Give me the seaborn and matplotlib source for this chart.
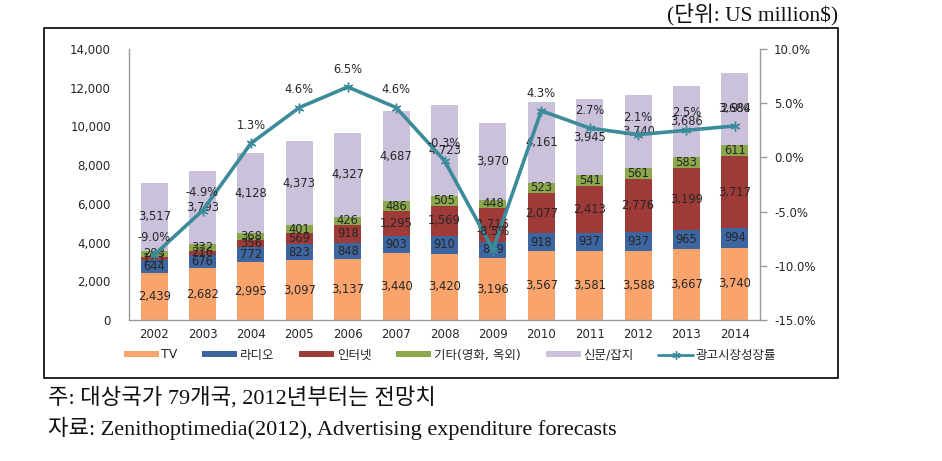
import numpy as np
import pandas as pd
import matplotlib
matplotlib.use("Agg")
import matplotlib.pyplot as plt
import seaborn as sns
from matplotlib.patches import Rectangle, Patch
from matplotlib.lines import Line2D
from matplotlib.ticker import FuncFormatter, FixedLocator

years = ["2002", "2003", "2004", "2005", "2006", "2007", "2008",
         "2009", "2010", "2011", "2012", "2013", "2014"]
tv = [2439, 2682, 2995, 3097, 3137, 3440, 3420, 3196, 3567, 3581, 3588, 3667, 3740]
radio = [644, 676, 772, 823, 848, 903, 910, 859, 918, 937, 937, 965, 994]
internet = [193, 216, 356, 569, 918, 1295, 1569, 1716, 2077, 2413, 2776, 3199, 3717]
other = [293, 332, 368, 401, 426, 486, 505, 448, 523, 541, 561, 583, 611]
press = [3517, 3793, 4128, 4373, 4327, 4687, 4723, 3970, 4161, 3945, 3740, 3686, 3684]
growth = [-9.0, -4.9, 1.3, 4.6, 6.5, 4.6, -0.3, -8.5, 4.3, 2.7, 2.1, 2.5, 2.9]

series_names = ["TV", "라디오", "인터넷", "기타(영화, 옥외)", "신문/잡지"]
line_name = "광고시장성장률"
colors = ["#F9A46C", "#3D65A0", "#9E3B39", "#8CA84C", "#CCC1DB"]
line_color = "#3B8B9B"

sns.set_theme(style="white")
plt.rcParams["font.family"] = ["DejaVu Sans", "Noto Sans CJK KR"]

fig = plt.figure(figsize=(9.42, 4.61), dpi=100)
ax = fig.add_axes([129/942, 1-320/461, (760-129)/942, (320-49)/461])

layers = [tv, radio, internet, other, press]
df = pd.DataFrame({"year": years})
cum = np.zeros(len(years))
bottoms = []
for vals in layers:
    bottoms.append(cum.copy())
    cum = cum + np.array(vals)
    df[f"top{len(bottoms)}"] = cum.copy()

# draw from tallest cumulative down so each segment shows
for i in reversed(range(len(layers))):
    sns.barplot(data=df, x="year", y=f"top{i+1}", color=colors[i], ax=ax,
                width=0.56, saturation=1, edgecolor="none", linewidth=0)

label_color = "#262626"
for i, vals in enumerate(layers):
    for j, v in enumerate(vals):
        ax.text(j, bottoms[i][j] + v / 2, f"{v:,}", ha="center", va="center",
                fontsize=8.3, color=label_color)

ax.set_xlim(-0.52, 12.52)
ax.set_ylim(0, 14000)
ax.yaxis.set_major_locator(FixedLocator(np.arange(0, 14001, 2000)))
ax.yaxis.set_major_formatter(FuncFormatter(lambda v, p: f"{int(v):,}"))
ax.set_xlabel("")
ax.set_ylabel("")
ax.tick_params(axis="both", labelsize=8.5, colors="#262626", length=0)
ax.tick_params(axis="y", pad=13)
ax.tick_params(axis="x", pad=6)
for s in ["top", "right"]:
    ax.spines[s].set_visible(False)
for s in ["left", "bottom"]:
    ax.spines[s].set_color("#9a9a9a")
    ax.spines[s].set_linewidth(1.0)

ax2 = ax.twinx()
gdf = pd.DataFrame({"x": np.arange(len(years)), "g": growth})
sns.lineplot(data=gdf, x="x", y="g", ax=ax2, color=line_color, linewidth=2.6,
             marker=(6, 2, 0), markersize=7, markeredgecolor=line_color,
             markeredgewidth=1.0)
ax2.set_ylim(-15, 10)
ax2.set_xlim(-0.52, 12.52)
ax2.yaxis.set_major_locator(FixedLocator(np.arange(-15, 10.1, 5)))
ax2.yaxis.set_major_formatter(FuncFormatter(lambda v, p: f"{v:.1f}%"))
ax2.set_xlabel("")
ax2.set_ylabel("")
ax2.tick_params(axis="y", labelsize=8.5, colors="#262626", length=5, width=1,
                direction="out", pad=5)
ax2.tick_params(axis="y", which="major", color="#9a9a9a")
for s in ["top", "left", "bottom"]:
    ax2.spines[s].set_visible(False)
ax2.spines["right"].set_color("#9a9a9a")
ax2.spines["right"].set_linewidth(1.0)
ax2.grid(False)
ax.grid(False)

for j, g in enumerate(growth):
    ax2.annotate(f"{g:.1f}%", (j, g), xytext=(0, 8), textcoords="offset points",
                 ha="center", va="bottom", fontsize=8.3, color=label_color)

handles = [Patch(facecolor=c, edgecolor="none") for c in colors]
handles.append(Line2D([], [], color=line_color, linewidth=2, marker=(6, 2, 0),
                      markersize=6, markeredgecolor=line_color))
labels = series_names + [line_name]
fig.legend(handles, labels, loc="center", bbox_to_anchor=(450/942, 1-355/461),
           ncol=6, frameon=False, handlelength=2.8,
           handleheight=0.45, handletextpad=0.2, columnspacing=2.0,
           prop={"family": ["DejaVu Sans", "Noto Sans CJK KR"], "size": 9})

# outer border
fig.patches.append(Rectangle((44/942, 1-378/461), (838-44)/942, (378-28)/461,
                             transform=fig.transFigure, fill=False,
                             edgecolor="black", linewidth=1.2))

serif = ["Liberation Serif", "Noto Sans CJK KR"]
fig.text(838/942, 1-14/461, "(단위: US million$)", ha="right", va="center",
         fontsize=15.5, family=serif, color="#111111")
fig.text(48/942, 1-398/461, "주: 대상국가 79개국, 2012년부터는 전망치", ha="left",
         va="center", fontsize=16, family=serif, color="#111111")
fig.text(48/942, 1-428/461,
         "자료: Zenithoptimedia(2012), Advertising expenditure forecasts",
         ha="left", va="center", fontsize=16, family=serif, color="#111111")

fig.savefig("out.png", dpi=100)
